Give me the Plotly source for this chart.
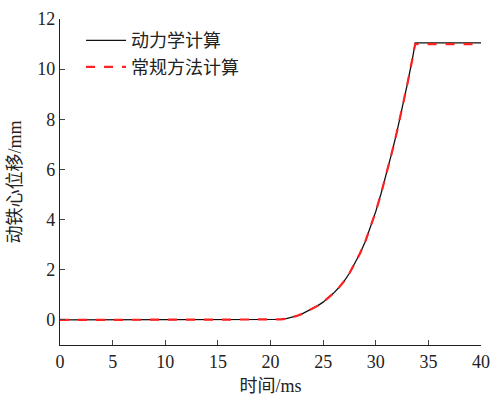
import plotly.graph_objects as go

# time (ms)
t = [0, 5, 10, 15, 20, 20.5, 21, 21.5, 22, 22.5, 23, 23.5, 24, 24.5, 25, 25.5, 26,
     26.5, 27, 27.5, 28, 28.5, 29, 29.5, 30, 30.5, 31, 31.5, 32, 32.5, 33, 33.5,
     33.75, 35, 40]
# dynamic calculation (mm)
dyn = [0, 0, 0, 0, 0, 0, 0.02, 0.05, 0.1, 0.16, 0.24, 0.34, 0.45, 0.57, 0.71, 0.88,
       1.07, 1.29, 1.55, 1.86, 2.23, 2.65, 3.12, 3.68, 4.32, 5.03, 5.8, 6.62, 7.48,
       8.4, 9.4, 10.45, 11.05, 11.05, 11.05]
# conventional method (mm)
conv = [0, 0, 0, 0, 0, 0, 0.02, 0.05, 0.1, 0.16, 0.24, 0.34, 0.45, 0.57, 0.71, 0.88,
        1.07, 1.29, 1.55, 1.86, 2.23, 2.65, 3.12, 3.68, 4.32, 5.03, 5.8, 6.62, 7.48,
        8.4, 9.4, 10.45, 11.0, 11.0, 11.0]

names = ["动力学计算", "常规方法计算"]
xticks = [0, 5, 10, 15, 20, 25, 30, 35, 40]
yticks = [0, 2, 4, 6, 8, 10, 12]

font_family = "Liberation Serif, Times New Roman, Noto Sans CJK SC, serif"

fig = go.Figure()
fig.add_trace(go.Scatter(x=t, y=dyn, mode="lines", name=names[0],
                         line=dict(color="#111111", width=1.3)))
fig.add_trace(go.Scatter(x=t, y=conv, mode="lines", name=names[1],
                         line=dict(color="#ff2222", width=2.2, dash="dash")))

fig.update_layout(
    width=491, height=400,
    margin=dict(l=60, r=10, t=19, b=55),
    paper_bgcolor="white", plot_bgcolor="white",
    font=dict(family=font_family, size=17, color="#222222"),
    showlegend=True,
    legend=dict(x=0.05, y=0.99, xanchor="left", yanchor="top",
                bgcolor="rgba(0,0,0,0)", font=dict(size=18),
                itemwidth=40, tracegroupgap=0),
)
fig.update_xaxes(range=[0, 40], tickvals=xticks, ticks="inside", ticklen=5,
                 showline=True, linecolor="#222222", linewidth=1.3,
                 showgrid=False, zeroline=False, mirror=False, automargin=False,
                 title=dict(text="时间/ms", font=dict(size=18), standoff=8),
                 tickfont=dict(size=18))
fig.update_yaxes(range=[-1, 12], tickvals=yticks, ticks="inside", ticklen=5,
                 showline=True, linecolor="#222222", linewidth=1.3,
                 showgrid=False, zeroline=False, mirror=False, automargin=False,
                 title=dict(text="动铁心位移/mm", font=dict(size=18), standoff=10),
                 tickfont=dict(size=18))

fig.write_html("out.html")
